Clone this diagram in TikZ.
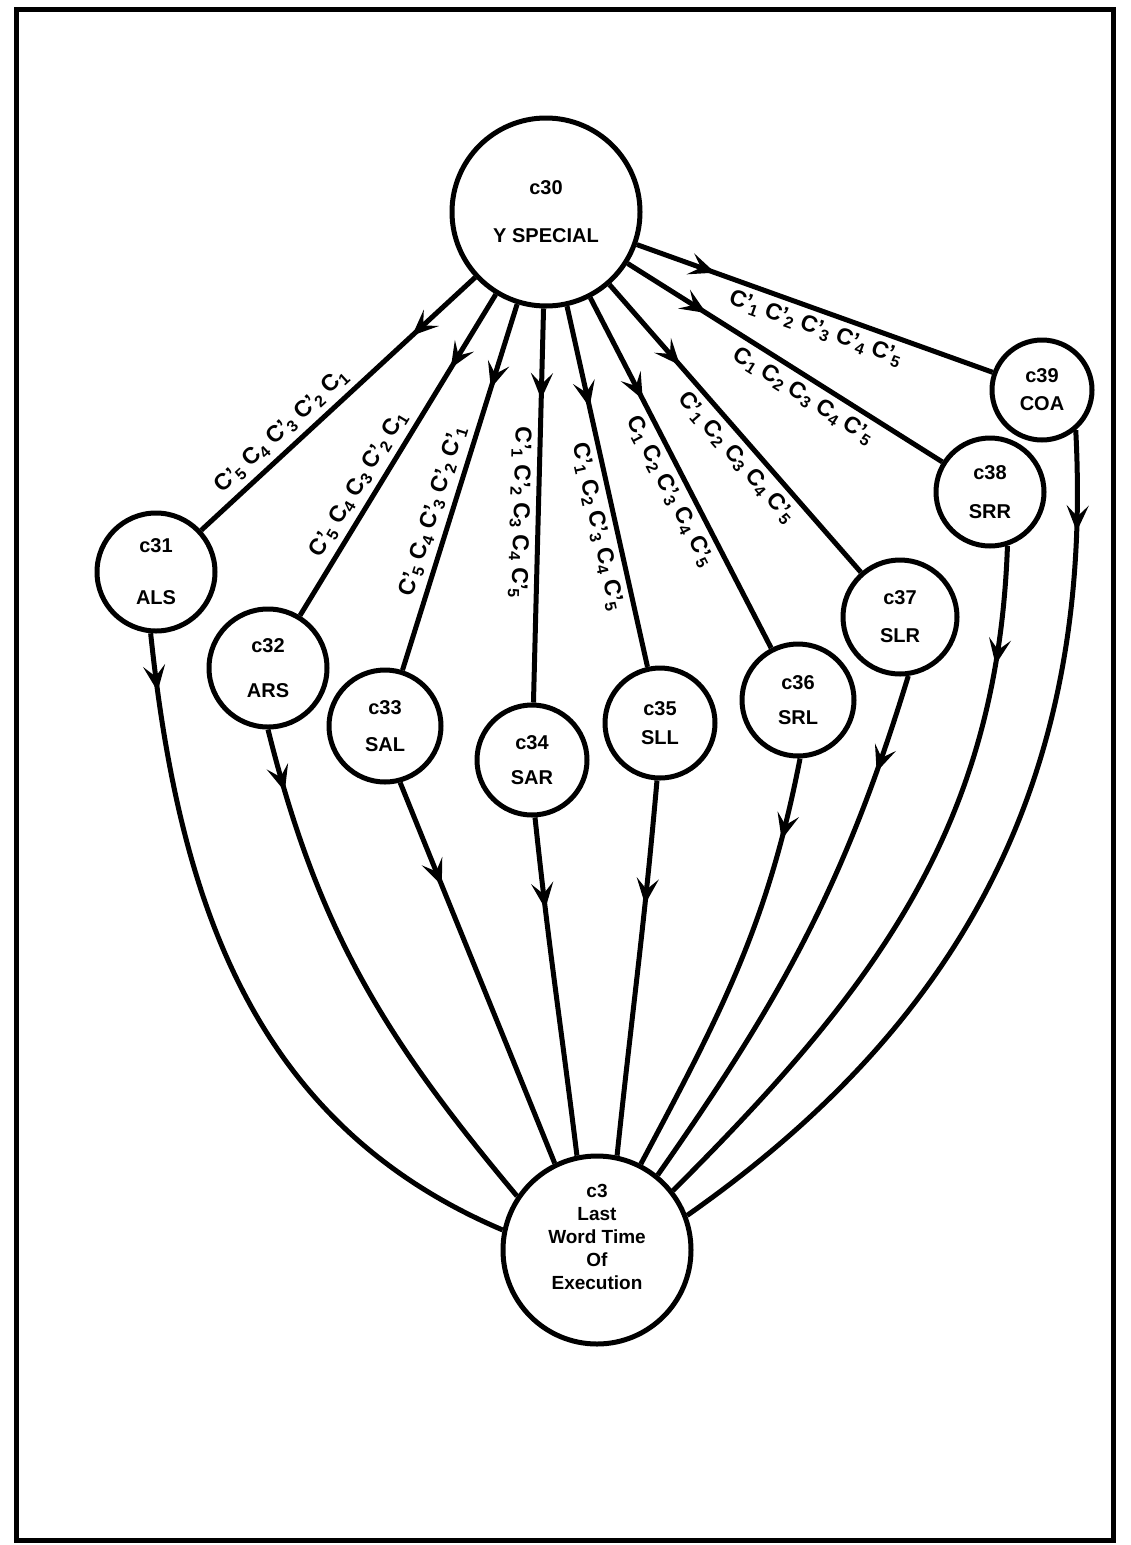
\documentclass[tikz,border=0pt]{standalone}
\usepackage{fontspec}
\setmainfont{Liberation Sans}
\usetikzlibrary{arrows.meta,decorations.markings}

\newcommand{\cn}[1]{C\textsubscript{#1}}
\newcommand{\cp}[1]{C’\kern-0.05em\textsubscript{#1}}

\begin{document}
\begin{tikzpicture}[x=1pt,y=-1pt,line width=5pt,
    state/.style={circle,draw,line width=5pt,inner sep=0pt,align=center,
      font=\fontsize{20}{24}\selectfont\bfseries},
    seq/.style={sloped,inner sep=6pt,font=\fontsize{23}{26}\selectfont\bfseries},
    midarrow/.style={postaction={decorate,decoration={markings,
      mark=at position #1 with {\arrow{Stealth[length=26pt,width=22pt,inset=11pt]}}}}}]
  \useasboundingbox (0,0) rectangle (1131,1545);

  % frame
  \draw (16,9) rectangle (1113,1540);

  % states
  \node[state,minimum size=188pt] (c30) at (546,212) {c30\\[24pt]Y SPECIAL};
  \node[state,minimum size=118pt] (c31) at (156,572) {c31\\[28pt]ALS};
  \node[state,minimum size=118pt] (c32) at (268,668) {c32\\[21pt]ARS};
  \node[state,minimum size=112pt] (c33) at (385,726) {c33\\[13pt]SAL};
  \node[state,minimum size=110pt] (c34) at (532,760) {c34\\[11pt]SAR};
  \node[state,minimum size=110pt] (c35) at (660,723) {c35\\[5pt]SLL};
  \node[state,minimum size=112pt] (c36) at (798,700) {c36\\[11pt]SRL};
  \node[state,minimum size=114pt] (c37) at (900,617) {c37\\[14pt]SLR};
  \node[state,minimum size=108pt] (c38) at (990,492) {c38\\[15pt]SRR};
  \node[state,minimum size=100pt] (c39) at (1042,390) {c39\\[4pt]COA};
  \node[state,minimum size=188pt] (c3) at (597,1250) {};
  \node[align=center,font=\fontsize{19}{23}\selectfont\bfseries] (c3text) at (597,1237)
    {c3\\Last\\Word Time\\Of\\Execution};

  % Y SPECIAL to the shifts
  \draw[midarrow=0.23] (c30) -- node[seq,above,pos=0.66] {\cp5\ \cn4\ \cp3\ \cp2\ \cn1} (c31);
  \draw[midarrow=0.23] (c30) -- node[seq,above,pos=0.62] {\cp5\ \cn4\ \cn3\ \cp2\ \cn1} (c32);
  \draw[midarrow=0.23] (c30) -- node[seq,above,pos=0.58] {\cp5\ \cn4\ \cp3\ \cp2\ \cp1} (c33);
  \draw[midarrow=0.23] (c30) -- node[seq,below,pos=0.52,allow upside down] {\cp1\ \cp2\ \cn3\ \cn4\ \cp5} (c34);
  \draw[midarrow=0.28] (c30) -- node[seq,below,pos=0.60] {\cp1\ \cn2\ \cp3\ \cn4\ \cp5} (c35);
  \draw[midarrow=0.29] (c30) -- node[seq,below,pos=0.53] {\cn1\ \cn2\ \cp3\ \cn4\ \cp5} (c36);
  \draw[midarrow=0.28] (c30) -- node[seq,below,pos=0.56] {\cp1\ \cn2\ \cn3\ \cn4\ \cp5} (c37);
  \draw[midarrow=0.25] (c30) -- node[seq,below,pos=0.59] {\cn1\ \cn2\ \cn3\ \cn4\ \cp5} (c38);
  \draw[midarrow=0.22] (c30) -- node[seq,below,pos=0.52] {\cp1\ \cp2\ \cp3\ \cp4\ \cp5} (c39);

  % shifts to last word time
  \draw[midarrow=0.08] (c31.-95) to[out=-84,in=157] (c3.168);
  \draw[midarrow=0.12] (c32.-90) to[out=-76,in=130] (c3.146);
  \draw[midarrow=0.27] (c33.-75) to[out=-68,in=112] (c3.116);
  \draw[midarrow=0.27] (c34.-87) to[out=-84,in=97] (c3.102);
  \draw[midarrow=0.33] (c35.-93) to[out=-95,in=84] (c3.78);
  \draw[midarrow=0.19] (c36.-88) to[out=-101,in=62] (c3.63);
  \draw[midarrow=0.18] (c37.-82) to[out=-107,in=55] (c3.51);
  \draw[midarrow=0.16] (c38.-72) to[out=-92,in=45] (c3.38);
  \draw[midarrow=0.11] (c39.-50) to[out=-87,in=35] (c3.21);
\end{tikzpicture}
\end{document}
